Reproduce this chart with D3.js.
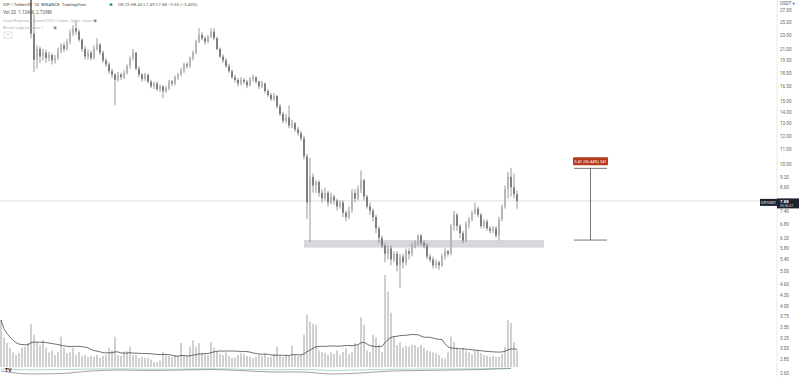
<!DOCTYPE html>
<html lang="en">
<head>
<meta charset="utf-8">
<title>ICP / TetherUS 1D</title>
<script src="https://cdn.jsdelivr.net/npm/d3@7"></script>
<style>
  body { margin: 0; background: #fff; }
  svg { display: block; font-family: Roboto, "DejaVu Sans", sans-serif; }
</style>
</head>
<body>
<script>
// daily candles, oldest first (the first ten sit above the visible range)
var opens = [33.0,34.0,33.0,35.0,32.0,31.0,33.0,32.0,31.5,30.5,
  30.0,23.2,19.6,21.0,20.0,20.5,19.8,20.2,19.5,19.8,20.8,21.5,21.0,22.0,23.2,24.0,23.5,22.3,21.0,20.0,
  20.5,19.8,21.0,21.6,20.5,19.5,19.0,18.2,17.8,17.2,17.8,17.5,18.0,18.8,19.8,20.5,18.5,17.8,17.3,17.8,
  17.0,16.5,16.8,16.2,16.5,16.0,16.3,17.0,16.8,17.5,17.8,18.3,19.0,18.8,19.8,20.5,22.0,23.0,22.5,22.0,
  22.8,23.5,22.5,21.0,20.0,19.5,18.8,18.2,17.5,17.2,16.8,17.2,17.0,16.6,17.3,17.5,17.0,16.5,16.8,16.0,
  15.6,15.2,15.5,14.5,13.8,13.2,13.5,12.8,13.0,12.5,12.2,11.8,10.5,7.8,9.2,8.7,8.9,8.3,8.0,8.3,
  7.8,8.1,7.9,7.6,7.8,7.3,7.1,7.4,8.3,8.0,8.5,9.0,8.1,7.6,7.4,7.1,6.6,6.2,5.9,5.6,
  5.8,5.4,5.6,5.2,5.5,5.3,5.7,5.6,5.9,6.0,6.3,6.0,5.9,5.5,5.4,5.2,5.3,5.2,5.5,5.7,
  5.6,6.7,7.2,6.7,6.4,6.1,6.8,7.0,7.3,7.5,7.2,6.7,6.9,6.6,6.5,6.6,6.3,7.0,7.6,8.5,
  9.2,8.6,8.23];
var highs = [34.5,35.5,36.0,35.5,33.0,33.5,33.5,32.5,32.0,31.5,
  30.5,26.5,21.5,21.3,21.0,20.9,20.6,20.4,20.2,21.2,21.8,21.9,22.4,23.8,24.5,25.2,23.8,22.5,21.4,20.9,
  20.8,21.5,22.5,21.8,20.8,19.8,19.3,18.5,18.0,18.1,18.0,18.3,19.0,20.0,21.0,20.6,18.8,18.0,18.0,17.9,
  17.2,17.0,17.0,16.7,16.6,16.5,17.2,17.2,17.7,18.0,18.6,19.2,19.3,20.0,20.8,22.3,24.0,23.4,22.8,23.0,
  24.0,24.0,22.7,21.2,20.3,19.8,19.1,18.4,17.8,17.4,17.5,17.4,17.2,17.5,17.8,17.6,17.1,17.1,16.9,16.2,
  15.8,15.8,15.6,14.7,14.0,13.8,14.6,13.3,13.1,12.7,12.4,12.0,10.7,10.4,9.4,9.0,9.0,8.5,8.6,8.4,
  8.3,8.2,8.0,7.9,7.9,7.4,7.6,8.5,8.5,8.7,9.6,9.1,8.2,7.8,7.5,7.2,6.7,6.3,6.0,5.9,
  5.9,5.7,5.7,5.6,5.6,5.8,5.8,6.0,6.1,6.35,6.35,6.1,6.0,5.6,5.5,5.4,5.35,5.6,5.8,5.75,
  6.8,7.4,7.3,6.8,6.5,6.9,7.1,7.4,7.8,7.6,7.3,7.0,7.0,6.7,6.7,6.7,7.1,7.7,8.7,9.5,
  9.75,9.4,8.43];
var lows = [32.0,32.5,32.5,31.5,30.5,30.5,31.0,30.8,30.0,29.5,
  22.5,18.1,18.5,19.2,19.5,19.2,19.4,19.0,19.1,19.6,20.4,20.6,20.8,21.6,22.8,23.0,22.0,20.6,19.6,19.6,
  19.5,19.6,20.8,20.2,19.2,18.7,17.9,17.4,14.6,17.0,17.2,17.3,17.8,18.5,19.5,18.3,17.5,17.0,17.1,16.8,
  16.3,16.2,16.0,15.9,15.3,15.8,16.1,16.5,16.6,17.2,17.6,18.0,18.5,18.6,19.5,20.3,21.8,22.2,21.6,21.8,
  22.5,22.2,20.8,19.8,19.2,18.6,18.0,17.3,16.9,16.5,16.6,16.7,16.3,16.5,17.0,16.8,16.2,16.3,15.8,15.4,
  15.0,15.0,14.3,13.6,13.0,13.0,12.6,12.6,12.3,12.0,11.6,10.3,7.0,6.05,8.3,8.3,8.1,7.8,7.9,7.6,
  7.7,7.7,7.4,7.5,7.1,6.9,7.0,7.3,7.8,7.9,8.3,7.9,7.5,7.2,6.9,6.4,6.0,5.8,5.3,5.4,
  5.2,5.3,5.0,4.5,5.1,5.2,5.4,5.5,5.8,5.9,5.9,5.8,5.4,5.3,5.1,5.1,5.05,5.15,5.4,5.5,
  5.55,6.5,6.5,6.2,6.0,6.05,6.6,6.9,7.2,7.1,6.6,6.6,6.5,6.4,6.4,6.2,6.1,6.9,7.5,8.0,
  8.1,8.0,7.49];
var closes = [34.0,33.0,35.0,32.0,31.0,33.0,32.0,31.5,30.5,30.0,
  23.2,19.6,21.0,20.0,20.5,19.8,20.2,19.5,19.8,20.8,21.5,21.0,22.0,23.2,24.0,23.5,22.3,21.0,20.0,20.5,
  19.8,21.0,21.6,20.5,19.5,19.0,18.2,17.8,17.2,17.8,17.5,18.0,18.8,19.8,20.5,18.5,17.8,17.3,17.8,17.0,
  16.5,16.8,16.2,16.5,16.0,16.3,17.0,16.8,17.5,17.8,18.3,19.0,18.8,19.8,20.5,22.0,23.0,22.5,22.0,22.8,
  23.5,22.5,21.0,20.0,19.5,18.8,18.2,17.5,17.2,16.8,17.2,17.0,16.6,17.3,17.5,17.0,16.5,16.8,16.0,15.6,
  15.2,15.5,14.5,13.8,13.2,13.5,12.8,13.0,12.5,12.2,11.8,10.5,7.8,9.2,8.7,8.9,8.3,8.0,8.3,7.8,
  8.1,7.9,7.6,7.8,7.3,7.1,7.4,8.3,8.0,8.5,9.0,8.1,7.6,7.4,7.1,6.6,6.2,5.9,5.6,5.8,
  5.4,5.6,5.2,5.5,5.3,5.7,5.6,5.9,6.0,6.3,6.0,5.9,5.5,5.4,5.2,5.3,5.2,5.5,5.7,5.6,
  6.7,7.2,6.7,6.4,6.1,6.8,7.0,7.3,7.5,7.2,6.7,6.9,6.6,6.5,6.6,6.3,7.0,7.6,8.5,9.2,
  8.6,8.23,7.88];
// volume, millions
var volumes = [5.1,3.2,2.6,2.1,1.6,1.3,1.5,2.1,2.2,2.6,
  4.7,3.5,2.7,2.4,2.9,2.1,1.6,1.8,1.3,1.6,3.3,2.1,1.5,1.6,2.1,1.3,1.6,1.2,1.3,1.1,
  1.2,1.1,1.3,1.0,1.2,1.3,2.1,1.8,3.3,1.3,1.2,1.7,1.7,2.2,1.3,1.3,1.0,1.1,1.0,1.0,
  0.8,0.5,0.5,0.7,1.6,1.3,1.2,1.1,1.3,1.2,2.6,1.3,1.2,2.2,2.9,2.2,2.6,1.5,1.4,1.3,
  2.7,2.1,1.7,1.4,1.3,1.6,1.2,1.0,1.0,1.3,1.5,1.4,1.2,1.1,1.0,1.1,1.3,1.2,1.5,1.1,
  1.1,1.4,2.2,1.2,1.1,1.3,1.2,2.3,1.3,1.2,1.3,3.5,5.7,4.9,4.7,4.6,1.8,1.6,1.5,1.3,
  1.6,1.4,1.8,1.3,1.6,2.0,1.4,1.6,2.6,2.4,5.4,4.6,1.8,1.6,3.5,3.2,2.4,1.6,10.0,8.2,
  5.9,3.3,2.4,2.7,2.1,2.3,2.2,2.4,2.4,2.2,2.4,2.1,1.8,1.7,1.6,1.5,1.3,1.0,0.9,1.6,
  3.3,2.7,2.1,1.8,2.1,1.8,1.6,1.4,1.8,1.8,1.5,1.3,1.2,1.1,1.2,1.1,1.1,1.4,2.2,5.1,
  4.8,2.7,1.8];
// lower indicator strip, sampled every 10 bars
var stripIdx = [0,10,20,30,40,50,60,70,80,90,100,110,120,130,140,150,160,170];
var stripDark = [5.0,2.5,2.9,5.0,5.8,5.4,5.8,6.2,5.4,4.2,4.2,2.5,3.3,5.0,5.4,5.8,6.2,7.1];
var stripTeal = [6.5,6.0,6.2,6.6,6.8,6.5,6.6,6.9,6.4,6.0,6.3,5.5,5.9,6.4,6.6,6.7,6.9,7.4];

// 8.00 sits under the last-price label, so it is left out
var priceTicks = [27,25,23,21,19.5,18,16.5,15,14,13,12,11,10,9.2,8.6,7.4,6.8,6.2,5.8,5.4,5.0,4.6,4.3,4.0,3.75,3.5,3.25,3.05,2.85,2.6];

// drawings on the chart
var zone = {from: 101, to: 181, low: 5.83, high: 6.12};
var measure = {from: 191, to: 202, low: 6.12, high: 9.72, text: "3.41 (56.44%) 341"};

var w = 800, h = 377, axisX = 777;

var svg = d3.select("body").append("svg").attr("width", w).attr("height", h);

var x = d3.scaleLinear().domain([0, closes.length - 1]).range([1, 517]);
var y = d3.scaleLog().domain([2.53, 28.8]).range([h, 0]);
var yVol = d3.scaleLinear().domain([0, 10]).range([367, 275]);
var yStrip = d3.scaleLinear().domain([0, 10]).range([377, 365]);

var idx = d3.range(closes.length);

// volume bars
svg.append("g").selectAll("rect").data(idx).enter().append("rect")
  .attr("x", function(i) { return x(i) - 1; })
  .attr("y", function(i) { return yVol(volumes[i]); })
  .attr("width", 2)
  .attr("height", function(i) { return yVol(0) - yVol(volumes[i]); })
  .attr("fill", "#d0d0d0");

// 20-day volume average
var volMA = idx.map(function(i) {
  return d3.mean(volumes.slice(Math.max(0, i - 19), i + 1));
});
svg.append("path")
  .attr("d", d3.line().x(function(d, i) { return x(i); }).y(function(d) { return yVol(d); })(volMA))
  .attr("fill", "none").attr("stroke", "#333").attr("stroke-width", 0.7);

// lower strip
var stripLine = d3.line().curve(d3.curveMonotoneX)
  .x(function(d, i) { return x(stripIdx[i]); })
  .y(function(d) { return yStrip(d); });
svg.append("path").attr("d", stripLine(stripTeal))
  .attr("fill", "none").attr("stroke", "#a8d8d4").attr("stroke-width", 1);
svg.append("path").attr("d", stripLine(stripDark))
  .attr("fill", "none").attr("stroke", "#666").attr("stroke-width", 0.6);

// support zone
svg.append("rect")
  .attr("x", x(zone.from)).attr("y", y(zone.high))
  .attr("width", x(zone.to) - x(zone.from))
  .attr("height", y(zone.low) - y(zone.high))
  .attr("fill", "#d6d7da");

// last price line
svg.append("line")
  .attr("x1", 0).attr("x2", axisX)
  .attr("y1", y(closes[closes.length - 1])).attr("y2", y(closes[closes.length - 1]))
  .attr("stroke", "#d2d2d2").attr("stroke-width", 0.7);

// candles
var candles = svg.append("g").selectAll("g").data(idx).enter().append("g");
candles.append("line")
  .attr("x1", function(i) { return x(i); })
  .attr("x2", function(i) { return x(i); })
  .attr("y1", function(i) { return y(highs[i]); })
  .attr("y2", function(i) { return y(lows[i]); })
  .attr("stroke", "#6e6e6e").attr("stroke-width", 0.7);
candles.append("rect")
  .attr("x", function(i) { return x(i) - 0.9; })
  .attr("y", function(i) { return y(Math.max(opens[i], closes[i])); })
  .attr("width", 1.8)
  .attr("height", function(i) { return Math.max(0.8, Math.abs(y(opens[i]) - y(closes[i]))); })
  .attr("fill", function(i) { return closes[i] >= opens[i] ? "#b4b4b4" : "#777"; });

// measure tool
var mx = (x(measure.from) + x(measure.to)) / 2;
var mg = svg.append("g").attr("stroke", "#555").attr("stroke-width", 0.8);
mg.append("line").attr("x1", mx).attr("x2", mx).attr("y1", y(measure.high)).attr("y2", y(measure.low));
mg.append("line").attr("x1", x(measure.from)).attr("x2", x(measure.to)).attr("y1", y(measure.high)).attr("y2", y(measure.high));
mg.append("line").attr("x1", x(measure.from)).attr("x2", x(measure.to)).attr("y1", y(measure.low)).attr("y2", y(measure.low));
svg.append("rect")
  .attr("x", x(measure.from) - 1).attr("y", y(measure.high) - 11)
  .attr("width", x(measure.to) - x(measure.from) + 2).attr("height", 8)
  .attr("rx", 1).attr("fill", "#b5391c");
svg.append("text")
  .attr("x", mx).attr("y", y(measure.high) - 5.6)
  .attr("text-anchor", "middle").attr("font-size", "4px").attr("fill", "#fff")
  .text(measure.text);

// price axis
svg.append("line").attr("x1", axisX).attr("x2", axisX).attr("y1", 0).attr("y2", h)
  .attr("stroke", "#e4e4e4").attr("stroke-width", 0.8);
var axis = svg.append("g")
  .attr("transform", "translate(" + axisX + ",0)")
  .call(d3.axisRight(y).tickValues(priceTicks).tickSize(0).tickPadding(3).tickFormat(d3.format(".2f")));
axis.select(".domain").remove();
axis.selectAll("text").attr("font-size", "4.6px").attr("fill", "#666").attr("font-family", "Roboto, sans-serif");
svg.append("text").attr("x", 780).attr("y", 5).attr("font-size", "4.6px").attr("fill", "#555").text("USDT ▾");

// last price labels
var ly = y(closes[closes.length - 1]);
svg.append("rect").attr("x", 760).attr("y", ly - 2).attr("width", 17).attr("height", 7).attr("fill", "#1e222d");
svg.append("text").attr("x", 768.5).attr("y", ly + 2.8).attr("text-anchor", "middle")
  .attr("font-size", "3.4px").attr("fill", "#fff").text("ICP/USDT");
svg.append("rect").attr("x", axisX).attr("y", ly - 2.5).attr("width", 22).attr("height", 10).attr("fill", "#1e222d");
svg.append("text").attr("x", 780).attr("y", ly + 1.8).attr("font-size", "4.4px").attr("font-weight", "bold")
  .attr("fill", "#fff").text(d3.format(".2f")(closes[closes.length - 1]));
svg.append("text").attr("x", 780).attr("y", ly + 6.3).attr("font-size", "3.4px").attr("fill", "#ddd").text("05:36:57");

// legend
var last = closes.length - 1;
var f = d3.format(".2f");
svg.append("text").attr("x", 3).attr("y", 6).attr("font-size", "4.4px").attr("fill", "#444")
  .attr("xml:space", "preserve")
  .text("ICP / TetherUS  1D  BINANCE  TradingView");
svg.append("circle").attr("cx", 111).attr("cy", 4.5).attr("r", 1.6).attr("fill", "#26a69a");
svg.append("text").attr("x", 118).attr("y", 6).attr("font-size", "4.4px").attr("fill", "#666")
  .text("O" + f(opens[last]) + " H" + f(highs[last]) + " L" + f(lows[last]) + " C" + f(closes[last]) +
        " −" + f(opens[last] - closes[last]) + " (−5.40%)");
svg.append("text").attr("x", 3).attr("y", 14).attr("font-size", "4.6px").attr("fill", "#555")
  .attr("xml:space", "preserve").text("Vol 20  1.124M  2.729M");
svg.append("text").attr("x", 3).attr("y", 21.5).attr("font-size", "3.6px").attr("fill", "#b0b0b0")
  .text("Linear Regression Channel 100 2 2 close · Upper · Lower");
svg.append("text").attr("x", 93).attr("y", 21.8).attr("font-size", "4.5px").attr("fill", "#888").text("◉");
svg.append("text").attr("x", 3).attr("y", 29).attr("font-size", "3.8px").attr("fill", "#b0b0b0")
  .text("Bitcoin Logo Indicator 1");
svg.append("text").attr("x", 53).attr("y", 29.3).attr("font-size", "4.5px").attr("fill", "#888").text("◉");
svg.append("rect").attr("x", 4).attr("y", 32).attr("width", 8).attr("height", 6)
  .attr("fill", "#fff").attr("stroke", "#ccc").attr("stroke-width", 0.6);
svg.append("text").attr("x", 8).attr("y", 36.5).attr("text-anchor", "middle").attr("font-size", "4px").attr("fill", "#666").text("⌃");

// logo
svg.append("text").attr("x", 5).attr("y", 372).attr("font-size", "5px").attr("font-weight", "bold")
  .attr("fill", "#222").text("TV");
</script>
</body>
</html>
